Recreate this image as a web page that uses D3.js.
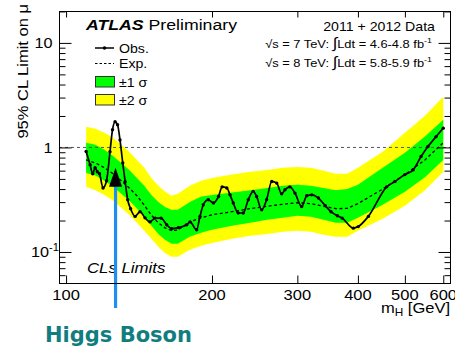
<!DOCTYPE html>
<html>
<head>
<meta charset="utf-8">
<script src="https://cdn.jsdelivr.net/npm/d3@7"></script>
<style>
  html, body { margin: 0; padding: 0; background: #fff; }
  svg { display: block; font-family: "Liberation Sans", Arial, Helvetica, sans-serif; }
</style>
</head>
<body>
<svg id="chart" width="455" height="347"></svg>
<script>
// Expected limit and its bands, sampled by Higgs mass (GeV)
const bandMass = [110, 115, 120, 125, 130, 135, 140, 145, 150, 155, 160, 165, 170, 180, 190, 200,
  220, 240, 260, 280, 300, 320, 340, 360, 380, 400, 450, 500, 550, 600];
const plus2 = [1.58, 1.51, 1.38, 1.24, 1.06, 0.91, 0.76, 0.64, 0.51, 0.43, 0.38, 0.345, 0.36, 0.43, 0.48, 0.51,
  0.55, 0.585, 0.61, 0.64, 0.65, 0.64, 0.60, 0.56, 0.56, 0.64, 0.91, 1.38, 2.01, 3.06];
const plus1 = [1.11, 1.06, 0.95, 0.83, 0.71, 0.61, 0.51, 0.43, 0.35, 0.30, 0.27, 0.253, 0.253, 0.30, 0.34, 0.35,
  0.37, 0.39, 0.41, 0.43, 0.44, 0.43, 0.41, 0.39, 0.40, 0.44, 0.64, 0.89, 1.27, 1.84];
const expected = [0.76, 0.71, 0.64, 0.56, 0.48, 0.41, 0.345, 0.28, 0.225, 0.19, 0.17, 0.16, 0.162, 0.195, 0.212, 0.227,
  0.243, 0.26, 0.274, 0.286, 0.296, 0.29, 0.274, 0.26, 0.261, 0.29, 0.40, 0.55, 0.76, 1.11];
const minus1 = [0.57, 0.54, 0.48, 0.42, 0.36, 0.31, 0.26, 0.217, 0.178, 0.149, 0.131, 0.120, 0.120, 0.140, 0.153, 0.163,
  0.178, 0.190, 0.203, 0.212, 0.222, 0.217, 0.203, 0.190, 0.190, 0.212, 0.283, 0.377, 0.52, 0.76];
const minus2 = [0.42, 0.39, 0.35, 0.31, 0.265, 0.227, 0.190, 0.160, 0.134, 0.112, 0.098, 0.090, 0.090, 0.105, 0.115, 0.122,
  0.134, 0.143, 0.149, 0.156, 0.160, 0.156, 0.146, 0.140, 0.140, 0.160, 0.208, 0.277, 0.39, 0.585];

// Observed limit
const obsMass = [110.0, 112.1, 113.5, 114.8, 116.0, 117.2, 119.2, 121.2, 123.2, 124.7, 126.2, 127.7, 129.2, 130.9,
  132.4, 134.0, 135.9, 138.8, 142.1, 145.5, 149.0, 152.6, 157.0, 161.3, 165.2, 170.5, 177.4, 180.2, 185.9, 188.9,
  191.9, 196.5, 201.4, 206.3, 209.9, 214.6, 217.9, 221.3, 226.5, 232.0, 237.6, 243.2, 247.2, 253.2, 259.2, 265.7,
  272.0, 278.4, 282.9, 289.5, 296.6, 306.2, 313.7, 321.2, 331.6, 342.6, 352.0, 362.9, 371.1, 391.4, 400.7, 420.4,
  458.6, 476.9, 500, 520, 540, 558, 580, 600];
const obsLimit = [0.915, 0.683, 0.56, 0.64, 0.585, 0.56, 0.41, 0.48, 0.91, 1.48, 1.76, 1.65, 1.18, 0.71,
  0.47, 0.316, 0.259, 0.219, 0.243, 0.212, 0.194, 0.211, 0.211, 0.182, 0.167, 0.171, 0.182, 0.194, 0.163, 0.219,
  0.283, 0.316, 0.294, 0.34, 0.42, 0.41, 0.352, 0.294, 0.236, 0.236, 0.316, 0.38, 0.34, 0.253, 0.316, 0.473,
  0.456, 0.36, 0.394, 0.42, 0.366, 0.272, 0.345, 0.352, 0.328, 0.277, 0.243, 0.222, 0.211, 0.169, 0.175, 0.219,
  0.42, 0.473, 0.55, 0.61, 0.82, 1.02, 1.27, 1.53];

// Axis ticks and labels
const xTicks = [100, 200, 300, 400, 500, 600];
const yMajor = [0.1, 1, 10];
const yMinor = [0.06, 0.07, 0.08, 0.09, 0.2, 0.3, 0.4, 0.5, 0.6, 0.7, 0.8, 0.9, 2, 3, 4, 5, 6, 7, 8, 9, 20];
const yTickText = [["10", "-1"], ["1", ""], ["10", ""]];

// Annotation: Higgs mass arrow
const higgsMass = 126.5;
const arrowTip = 0.64;
const arrowBase = 0.42;

const frame = { left: 59, right: 450, top: 11, bottom: 283 };
const stretch = 1.18; // ROOT text is drawn wider than Arial

const x = d3.scaleLog().domain([96.7, 619.5]).range([frame.left, frame.right]);
const y = d3.scaleLog().domain([0.0505, 20.2]).range([frame.bottom, frame.top]);

const svg = d3.select("#chart");

svg.append("clipPath").attr("id", "plot-clip")
  .append("rect")
  .attr("x", frame.left).attr("y", frame.top)
  .attr("width", frame.right - frame.left).attr("height", frame.bottom - frame.top);

const plot = svg.append("g").attr("clip-path", "url(#plot-clip)");

// Bands
const band = (lo, hi) => d3.area()
  .x(d => x(d))
  .y0((d, i) => y(lo[i]))
  .y1((d, i) => y(hi[i]));

plot.append("path").datum(bandMass).attr("d", band(minus2, plus2)).attr("fill", "#ffff00");
plot.append("path").datum(bandMass).attr("d", band(minus1, plus1)).attr("fill", "#00ff00");

// mu = 1 reference
plot.append("line")
  .attr("x1", frame.left).attr("x2", frame.right)
  .attr("y1", y(1)).attr("y2", y(1))
  .attr("stroke", "#555").attr("stroke-width", 1)
  .attr("stroke-dasharray", "3,3");

// Expected
plot.append("path")
  .datum(bandMass)
  .attr("d", d3.line().x(d => x(d)).y((d, i) => y(expected[i])))
  .attr("fill", "none")
  .attr("stroke", "#000").attr("stroke-width", 1.3)
  .attr("stroke-dasharray", "3,2.5");

// Observed
const obs = obsMass.map((m, i) => [m, obsLimit[i]]);
plot.append("path")
  .datum(obs)
  .attr("d", d3.line().x(d => x(d[0])).y(d => y(d[1])).curve(d3.curveMonotoneX))
  .attr("fill", "none")
  .attr("stroke", "#000").attr("stroke-width", 1.7);

plot.selectAll("circle.obs")
  .data(obs)
  .join("circle")
  .attr("class", "obs")
  .attr("cx", d => x(d[0]))
  .attr("cy", d => y(d[1]))
  .attr("r", 1.7)
  .attr("fill", "#000");

// Text helper: stretched like the ROOT fonts
function label(px, py, size, opts = {}) {
  const t = svg.append("text")
    .attr("transform", `translate(${px},${py})${opts.rotate ? " rotate(-90)" : ""} scale(${opts.sx || stretch},1)`)
    .attr("font-size", size)
    .attr("text-anchor", opts.anchor || "start")
    .attr("fill", "#000");
  if (opts.italic) t.attr("font-style", "italic");
  return t;
}

label(87, 272.5, 14, { italic: true, sx: 1.2 }).text("CLs Limits");

// Higgs arrow
svg.append("line")
  .attr("x1", x(higgsMass)).attr("x2", x(higgsMass))
  .attr("y1", y(arrowBase)).attr("y2", frame.bottom + 25)
  .attr("stroke", "#1e8ff0").attr("stroke-width", 3.2);

svg.append("path")
  .attr("d", `M${x(higgsMass)},${y(arrowTip)} L${x(higgsMass) - 6.5},${y(arrowBase)} L${x(higgsMass) + 6.5},${y(arrowBase)} Z`)
  .attr("fill", "#000");

// Frame
svg.append("rect")
  .attr("x", frame.left + 0.5).attr("y", frame.top + 0.5)
  .attr("width", frame.right - frame.left).attr("height", frame.bottom - frame.top)
  .attr("fill", "none").attr("stroke", "#000").attr("stroke-width", 1);

// Inward ticks on all four sides
const noDomain = g => g.select(".domain").remove();
svg.append("g").attr("transform", `translate(${frame.left + 0.5},0)`)
  .call(d3.axisLeft(y).tickValues(yMajor).tickSize(-12).tickFormat("")).call(noDomain);
svg.append("g").attr("transform", `translate(${frame.left + 0.5},0)`)
  .call(d3.axisLeft(y).tickValues(yMinor).tickSize(-6).tickFormat("")).call(noDomain);
svg.append("g").attr("transform", `translate(${frame.right + 0.5},0)`)
  .call(d3.axisRight(y).tickValues(yMajor).tickSize(-12).tickFormat("")).call(noDomain);
svg.append("g").attr("transform", `translate(${frame.right + 0.5},0)`)
  .call(d3.axisRight(y).tickValues(yMinor).tickSize(-6).tickFormat("")).call(noDomain);
svg.append("g").attr("transform", `translate(0,${frame.bottom + 0.5})`)
  .call(d3.axisBottom(x).tickValues(xTicks).tickSize(-8).tickFormat("")).call(noDomain);
svg.append("g").attr("transform", `translate(0,${frame.top + 0.5})`)
  .call(d3.axisTop(x).tickValues(xTicks).tickSize(-6).tickFormat("")).call(noDomain);

// Tick labels
yMajor.forEach((v, i) => {
  const t = label(yTickText[i][1] ? 59 : 52.5, y(v) + 5.5, 14.5, { anchor: "end", sx: 1.12 });
  t.append("tspan").text(yTickText[i][0]);
  if (yTickText[i][1]) t.append("tspan").attr("dy", -6).attr("font-size", 10).text(yTickText[i][1]);
});

xTicks.forEach(v => {
  label(x(v), 299.5, 14, { anchor: "middle", sx: 1.18 }).text(v);
});

// Axis titles
const xt = label(450, 313, 14, { anchor: "end", sx: 1.18 });
xt.append("tspan").text("m");
xt.append("tspan").attr("dy", 3).attr("font-size", 10).text("H");
xt.append("tspan").attr("dy", -3).text(" [GeV]");

label(28, 4, 14, { anchor: "end", rotate: true }).text("95% CL Limit on \u03bc");

// Header
const head = label(86, 30, 15);
head.append("tspan").attr("font-weight", "bold").attr("font-style", "italic").text("ATLAS");
head.append("tspan").text(" Preliminary");

label(435, 31, 12, { anchor: "end" }).text("2011 + 2012 Data");

[["7", "4.6-4.8", 48], ["8", "5.8-5.9", 67]].forEach(([e, l, py]) => {
  const t = label(432, py, 11.5, { anchor: "end", sx: 1.12 });
  t.append("tspan").text(`\u221as = ${e} TeV: `);
  t.append("tspan").attr("font-size", 15).text("\u222b");
  t.append("tspan").text(`Ldt = ${l} fb`);
  t.append("tspan").attr("dy", -5).attr("font-size", 8).text("-1");
});

// Legend
const lg = svg.append("g");
lg.append("line").attr("x1", 95).attr("x2", 114).attr("y1", 48).attr("y2", 48)
  .attr("stroke", "#000").attr("stroke-width", 1.5);
lg.append("circle").attr("cx", 104.5).attr("cy", 48).attr("r", 1.8).attr("fill", "#000");
label(119, 52.5, 12).text("Obs.");

lg.append("line").attr("x1", 95).attr("x2", 114).attr("y1", 63.5).attr("y2", 63.5)
  .attr("stroke", "#000").attr("stroke-width", 1.2).attr("stroke-dasharray", "2.5,2");
label(119, 68, 12).text("Exp.");

lg.append("rect").attr("x", 95.5).attr("y", 76.5).attr("width", 19).attr("height", 10.5)
  .attr("fill", "#00ff00").attr("stroke", "#333").attr("stroke-width", 1);
label(119, 87, 12).text("\u00b11 \u03c3");

lg.append("rect").attr("x", 95.5).attr("y", 94.5).attr("width", 19).attr("height", 10.5)
  .attr("fill", "#ffff00").attr("stroke", "#333").attr("stroke-width", 1);
label(119, 104.5, 12).text("\u00b12 \u03c3");

// Slide caption
svg.append("text")
  .attr("x", 45).attr("y", 342)
  .attr("font-family", "'DejaVu Sans', Verdana, sans-serif")
  .attr("font-weight", "bold")
  .attr("font-size", 21)
  .attr("fill", "#117d7f")
  .text("Higgs Boson");
</script>
</body>
</html>
